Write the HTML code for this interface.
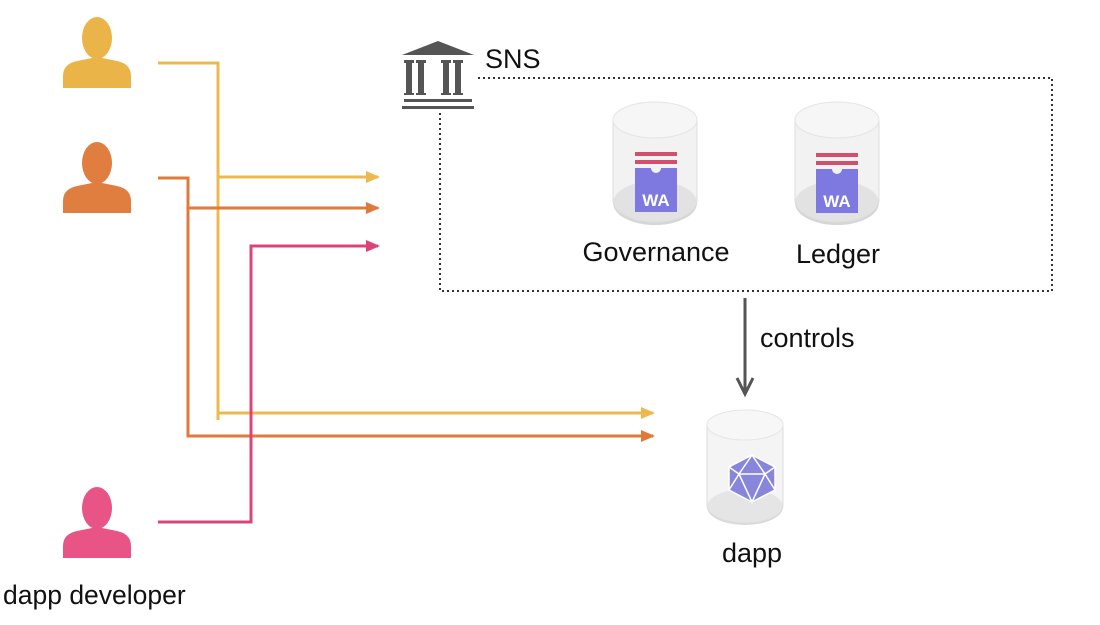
<!DOCTYPE html>
<html><head><style>
body{margin:0;background:#fff;}
svg{display:block;font-family:"Liberation Sans",Arial,sans-serif;}
</style></head><body>
<svg width="1100" height="625" viewBox="0 0 1100 625">
<defs>
<marker id="ay" markerWidth="14" markerHeight="14" refX="12" refY="7" orient="auto" markerUnits="userSpaceOnUse"><path d="M0,1 L14,7 L0,13z" fill="#edb94e"/></marker>
<marker id="ao" markerWidth="14" markerHeight="14" refX="12" refY="7" orient="auto" markerUnits="userSpaceOnUse"><path d="M0,1 L14,7 L0,13z" fill="#e07a3a"/></marker>
<marker id="ap" markerWidth="14" markerHeight="14" refX="12" refY="7" orient="auto" markerUnits="userSpaceOnUse"><path d="M0,1 L14,7 L0,13z" fill="#dc4479"/></marker>
<g id="person"><ellipse cx="0" cy="0" rx="15" ry="21"/><path d="M-34,50 L-34,38 Q-34,26 -20,23 L0,19 L20,23 Q34,26 34,38 L34,50z"/></g>
</defs>
<use href="#person" x="97" y="38" fill="#ebb448"/>
<use href="#person" x="97" y="163" fill="#e07e3f"/>
<use href="#person" x="97" y="508" fill="#e75485"/>
<text x="3" y="604" font-size="26.5" fill="#111">dapp developer</text>
<g fill="none" stroke-width="3">
<polyline points="158,63 218,63 218,420" stroke="#edb94e"/>
<line x1="218" y1="177" x2="378" y2="177" stroke="#edb94e" marker-end="url(#ay)"/>
<line x1="218" y1="413" x2="653" y2="413" stroke="#edb94e" marker-end="url(#ay)"/>
<polyline points="158,178 188,178 188,436 653,436" stroke="#e07a3a" marker-end="url(#ao)"/>
<line x1="188" y1="208" x2="378" y2="208" stroke="#e07a3a" marker-end="url(#ao)"/>
<polyline points="158,522 251,522 251,246 378,246" stroke="#dc4479" marker-end="url(#ap)"/>
</g>
<path d="M478,78 H1052 V291 H440 V112" fill="none" stroke="#333" stroke-width="2" stroke-dasharray="2,3"/>
<g fill="#555">
<path d="M402,55 L438,41 L474,55z"/>
<rect x="404" y="60" width="10" height="3"/><rect x="416" y="60" width="10" height="3"/>
<rect x="441" y="60" width="10" height="3"/><rect x="453" y="60" width="10" height="3"/>
<rect x="406" y="63" width="6" height="30"/><rect x="418" y="63" width="6" height="30"/>
<rect x="443" y="63" width="6" height="30"/><rect x="455" y="63" width="6" height="30"/>
<rect x="404" y="93" width="10" height="2"/><rect x="416" y="93" width="10" height="2"/>
<rect x="441" y="93" width="10" height="2"/><rect x="453" y="93" width="10" height="2"/>
<rect x="404" y="99" width="68" height="3"/><rect x="402" y="106" width="72" height="3"/>
</g>
<text x="485" y="68" font-size="27" fill="#111">SNS</text>
<ellipse cx="655" cy="203" rx="42" ry="22" fill="#d6d6d6"/>
<path d="M613,120 V200 A42,22 0 0 0 697,200 V120" fill="#e9e9e9" fill-opacity="0.6" stroke="#ddd"/>
<ellipse cx="655" cy="120" rx="42" ry="18" fill="#f6f6f6" stroke="#e4e4e4"/>
<rect x="635" y="152" width="42" height="4" fill="#d2506e"/><rect x="635" y="160" width="42" height="4" fill="#d2506e"/>
<path d="M635,168 H651 A5,5 0 0 0 661,168 H677 V212 H635z" fill="#7d79e0"/>
<text x="656" y="206" font-size="17" font-weight="bold" fill="#fff" text-anchor="middle">WA</text>
<ellipse cx="837" cy="203" rx="42" ry="22" fill="#d6d6d6"/>
<path d="M795,120 V200 A42,22 0 0 0 879,200 V120" fill="#e9e9e9" fill-opacity="0.6" stroke="#ddd"/>
<ellipse cx="837" cy="120" rx="42" ry="18" fill="#f6f6f6" stroke="#e4e4e4"/>
<rect x="816" y="153" width="42" height="4" fill="#d2506e"/><rect x="816" y="161" width="42" height="4" fill="#d2506e"/>
<path d="M816,169 H832 A5,5 0 0 0 842,169 H858 V213 H816z" fill="#7d79e0"/>
<text x="837" y="207" font-size="17" font-weight="bold" fill="#fff" text-anchor="middle">WA</text>
<text x="656" y="261" font-size="27" fill="#111" text-anchor="middle">Governance</text>
<text x="838" y="263" font-size="27" fill="#111" text-anchor="middle">Ledger</text>
<line x1="745" y1="298" x2="745" y2="392" stroke="#555" stroke-width="3"/>
<path d="M737,378 L745,394 L753,378" fill="none" stroke="#555" stroke-width="3"/>
<text x="760" y="347" font-size="27" fill="#111">controls</text>
<ellipse cx="745" cy="507" rx="38" ry="18" fill="#d9d9d9"/>
<path d="M707,425 V505 A38,18 0 0 0 783,505 V425" fill="#ececec" fill-opacity="0.6" stroke="#ddd"/>
<ellipse cx="745" cy="425" rx="38" ry="15" fill="#f7f7f7" stroke="#e6e6e6"/>
<g stroke="#fff" stroke-width="1.5" fill="#8886dc">
<polygon points="752,455 775,467 775,490 752,502 729,490 729,467"/>
<path d="M752,455 L739,474 L765,474z M739,474 L729,490 M739,474 L752,502 L765,474 L775,490 M765,474 L775,467 M739,474 L729,467" fill="none"/>
</g>
<text x="752" y="562" font-size="27" fill="#111" text-anchor="middle">dapp</text>
</svg>
</body></html>
